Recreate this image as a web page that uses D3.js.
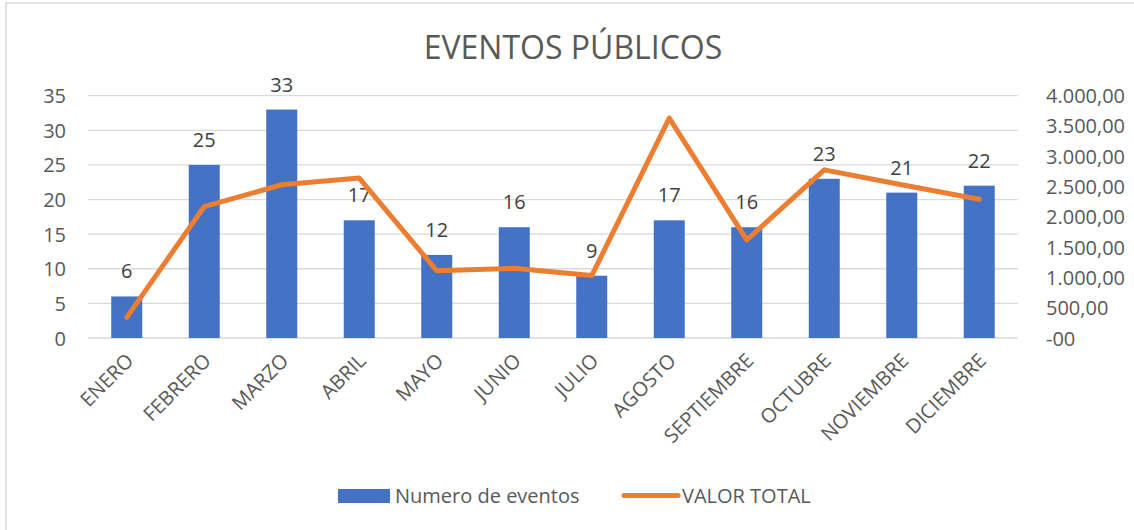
<!DOCTYPE html>
<html>
<head>
<meta charset="utf-8">
<script src="https://cdn.jsdelivr.net/npm/d3@7"></script>
<style>
  html, body { margin: 0; padding: 0; background: #fff; }
  svg { display: block; font-family: "Open Sans", sans-serif; }
</style>
</head>
<body>
<svg id="chart" width="1134" height="530"></svg>
<script>
const categories = ["ENERO","FEBRERO","MARZO","ABRIL","MAYO","JUNIO","JULIO","AGOSTO","SEPTIEMBRE","OCTUBRE","NOVIEMBRE","DICIEMBRE"];
const eventCounts = [6,25,33,17,12,16,9,17,16,23,21,22];
const totalValues = [340,2170,2530,2640,1110,1150,1030,3630,1620,2775,2530,2290];
const leftTicks = [0,5,10,15,20,25,30,35];
const rightTicks = [0,500,1000,1500,2000,2500,3000,3500,4000];
const rightTickLabels = ["-00","500,00","1.000,00","1.500,00","2.000,00","2.500,00","3.000,00","3.500,00","4.000,00"];
const seriesNames = ["Numero de eventos","VALOR TOTAL"];

const svg = d3.select("#chart");
const textColor = "#595959";
const barColor = "#4472C4";
const lineColor = "#ED7D31";
const gridColor = "#D9D9D9";
const fs = 20;

// chart border
svg.append("rect").attr("x",6).attr("y",3).attr("width",1140).attr("height",540)
  .attr("fill","#fff").attr("stroke","#D9D9D9").attr("stroke-width",1.5);

const plot = {left: 88, right: 1018, top: 95.7, bottom: 338};

const x = d3.scaleBand().domain(categories).range([plot.left, plot.right]).paddingInner(0.6).paddingOuter(0.3);
const yL = d3.scaleLinear().domain([0,35]).range([plot.bottom, plot.top]);
const yR = d3.scaleLinear().domain([0,4000]).range([plot.bottom, plot.top]);

// title
svg.append("text").attr("x",573).attr("y",59).attr("text-anchor","middle")
  .attr("font-size",32).attr("fill",textColor).text("EVENTOS PÚBLICOS");

// gridlines
svg.append("g").selectAll("line").data(leftTicks).join("line")
  .attr("x1",plot.left).attr("x2",plot.right)
  .attr("y1",d=>yL(d)).attr("y2",d=>yL(d))
  .attr("stroke",gridColor).attr("stroke-width",1.3);

// left axis
const gL = svg.append("g").attr("transform",`translate(${plot.left - 22},0)`)
  .call(d3.axisLeft(yL).tickValues(leftTicks).tickSize(0).tickPadding(0));
gL.select(".domain").remove();
gL.selectAll("text").attr("font-size",fs).attr("fill",textColor).attr("font-family","Open Sans, sans-serif").attr("dy","0.35em");

// right axis
const gR = svg.append("g").attr("transform",`translate(${plot.right + 28},0)`)
  .call(d3.axisRight(yR).tickValues(rightTicks).tickSize(0).tickPadding(0)
    .tickFormat((d,i)=>rightTickLabels[i]));
gR.select(".domain").remove();
gR.selectAll("text").attr("font-size",fs).attr("fill",textColor).attr("font-family","Open Sans, sans-serif").attr("dy","0.35em");

// bars
svg.append("g").selectAll("rect").data(categories).join("rect")
  .attr("x",d=>x(d)).attr("width",x.bandwidth())
  .attr("y",(d,i)=>yL(eventCounts[i]))
  .attr("height",(d,i)=>yL(0)-yL(eventCounts[i]))
  .attr("fill",barColor);

// bar labels
svg.append("g").selectAll("text").data(categories).join("text")
  .attr("x",d=>x(d)+x.bandwidth()/2)
  .attr("y",(d,i)=>yL(eventCounts[i]) - 18)
  .attr("text-anchor","middle").attr("font-size",fs).attr("fill","#404040")
  .text((d,i)=>eventCounts[i]);

// line
const line = d3.line().x((d,i)=>x(categories[i])+x.bandwidth()/2).y(d=>yR(d));
svg.append("path").datum(totalValues).attr("d",line)
  .attr("fill","none").attr("stroke",lineColor).attr("stroke-width",5)
  .attr("stroke-linejoin","round").attr("stroke-linecap","round");

// x labels
const gX = svg.append("g").attr("transform",`translate(0,${plot.bottom})`)
  .call(d3.axisBottom(x).tickSize(0).tickPadding(0));
gX.select(".domain").remove();
gX.selectAll("text")
  .attr("font-size",fs).attr("fill",textColor).attr("font-family","Open Sans, sans-serif")
  .attr("text-anchor","end").attr("dy",0).attr("y",0)
  .attr("transform","translate(8,24) rotate(-45)");

// legend
const lg = svg.append("g");
lg.append("rect").attr("x",338).attr("y",489).attr("width",52).attr("height",14).attr("fill",barColor);
lg.append("text").attr("x",395).attr("y",503).attr("font-size",fs).attr("fill",textColor).text(seriesNames[0]);
lg.append("line").attr("x1",624).attr("x2",678).attr("y1",495.5).attr("y2",495.5)
  .attr("stroke",lineColor).attr("stroke-width",5).attr("stroke-linecap","round");
lg.append("text").attr("x",682).attr("y",503).attr("font-size",fs).attr("fill",textColor).text(seriesNames[1]);
</script>
</body>
</html>
